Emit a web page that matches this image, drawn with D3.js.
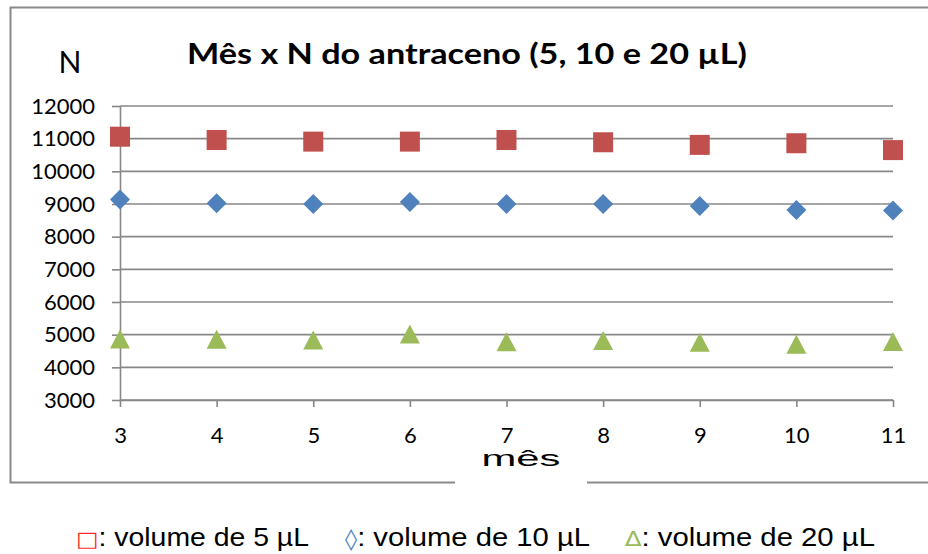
<!DOCTYPE html>
<html>
<head>
<meta charset="utf-8">
<script src="https://cdn.jsdelivr.net/npm/d3@7"></script>
<style>
  html, body { margin: 0; padding: 0; background: #fff; }
  svg { display: block; }
</style>
</head>
<body>
<svg id="chart" width="928" height="554"></svg>
<script>
// Months on the x axis and N values for each injection volume
const months = [3, 4, 5, 6, 7, 8, 9, 10, 11];
const vol5  = [11060, 10960, 10910, 10910, 10960, 10890, 10810, 10860, 10650];
const vol10 = [9140, 9020, 9000, 9060, 9000, 9000, 8940, 8820, 8800];
const vol20 = [4870, 4860, 4840, 5020, 4780, 4820, 4770, 4710, 4790];
const yTicks = [3000, 4000, 5000, 6000, 7000, 8000, 9000, 10000, 11000, 12000];

const titleText = "Mês x N do antraceno (5, 10 e 20 µL)";
const yLabel = "N";
const xLabel = "mês";
const legendItems = [
  { sym: "□", text: ": volume de 5 µL",  color: "#ff2a2a" },
  { sym: "◊", text: ": volume de 10 µL", color: "#4f81bd" },
  { sym: "∆", text: ": volume de 20 µL", color: "#9bbb59" }
];

const svg = d3.select("#chart");
const gridColor = "#878787";
const tickFont = "Lato, 'Open Sans', sans-serif";

const x = d3.scaleLinear().domain([3, 11]).range([120, 893]);
const y = d3.scaleLinear().domain([3000, 12000]).range([400, 106]);

// outer chart frame
svg.append("rect")
  .attr("x", 10.5).attr("y", 7.5)
  .attr("width", 940).attr("height", 475)
  .attr("fill", "none")
  .attr("stroke", "#8a8a8a")
  .attr("stroke-width", 2);

// horizontal gridlines
svg.append("g").selectAll("line")
  .data(yTicks)
  .join("line")
  .attr("x1", x(3)).attr("x2", x(11))
  .attr("y1", d => y(d)).attr("y2", d => y(d))
  .attr("stroke", gridColor)
  .attr("stroke-width", 1.6);

// y axis
const yAxis = svg.append("g")
  .attr("transform", `translate(${x(3)},0)`)
  .call(d3.axisLeft(y).tickValues(yTicks).tickFormat(d3.format("d"))
    .tickSize(8).tickSizeOuter(0).tickPadding(17));

// x axis
const xAxis = svg.append("g")
  .attr("transform", `translate(0,${y(3000)})`)
  .call(d3.axisBottom(x).tickValues(months).tickFormat(d3.format("d"))
    .tickSize(7).tickSizeOuter(0).tickPadding(20));

[yAxis, xAxis].forEach(g => {
  g.select(".domain").attr("stroke", gridColor).attr("stroke-width", 1.6);
  g.selectAll(".tick line").attr("stroke", gridColor).attr("stroke-width", 1.6);
  g.selectAll(".tick text")
    .attr("fill", "#000")
    .style("font-family", tickFont)
    .style("font-size", "22px");
});

// marker shapes
const square = s => `M${-s/2},${-s/2}H${s/2}V${s/2}H${-s/2}Z`;
const diamond = s => `M0,${-s/2}L${s/2},0L0,${s/2}L${-s/2},0Z`;
const triangle = (w, h) => `M0,${-h/2}L${w/2},${h/2}L${-w/2},${h/2}Z`;

const series = [
  { values: vol5,  color: "#c0504d", path: square(20) },
  { values: vol10, color: "#4f81bd", path: diamond(20) },
  { values: vol20, color: "#9bbb59", path: triangle(20, 19) }
];

series.forEach(s => {
  svg.append("g").selectAll("path")
    .data(months.map((m, i) => ({ m, v: s.values[i] })))
    .join("path")
    .attr("d", s.path)
    .attr("transform", d => `translate(${x(d.m)},${y(d.v)})`)
    .attr("fill", s.color);
});

// title
svg.append("text")
  .attr("x", 467).attr("y", 64)
  .attr("text-anchor", "middle")
  .attr("textLength", 560)
  .attr("lengthAdjust", "spacingAndGlyphs")
  .style("font-family", tickFont)
  .style("font-weight", "bold")
  .style("font-size", "29px")
  .text(titleText);

// y axis title
svg.append("text")
  .attr("x", 70).attr("y", 73)
  .attr("text-anchor", "middle")
  .style("font-family", tickFont)
  .style("font-size", "30px")
  .text(yLabel);

// x axis title on a white box over the frame
svg.append("rect")
  .attr("x", 455).attr("y", 448)
  .attr("width", 132).attr("height", 40)
  .attr("fill", "#fff");
svg.append("text")
  .attr("x", 521).attr("y", 466)
  .attr("text-anchor", "middle")
  .attr("textLength", 79)
  .attr("lengthAdjust", "spacingAndGlyphs")
  .style("font-family", "'Liberation Sans', Arial, sans-serif")
  .style("font-size", "22px")
  .text(xLabel);

// legend
const legendPos = [[76, 233], [345, 245], [625, 250]];
legendItems.forEach((item, i) => {
  const t = svg.append("text")
    .attr("x", legendPos[i][0]).attr("y", 546)
    .attr("textLength", legendPos[i][1])
    .attr("lengthAdjust", "spacingAndGlyphs")
    .style("font-family", "'Liberation Sans', Arial, sans-serif")
    .style("font-size", "25px");
  t.append("tspan")
    .attr("fill", item.color)
    .style("font-family", "'DejaVu Sans', sans-serif")
    .style("font-size", "21px")
    .text(item.sym);
  t.append("tspan").attr("fill", "#000").text(item.text);
});
</script>
</body>
</html>
